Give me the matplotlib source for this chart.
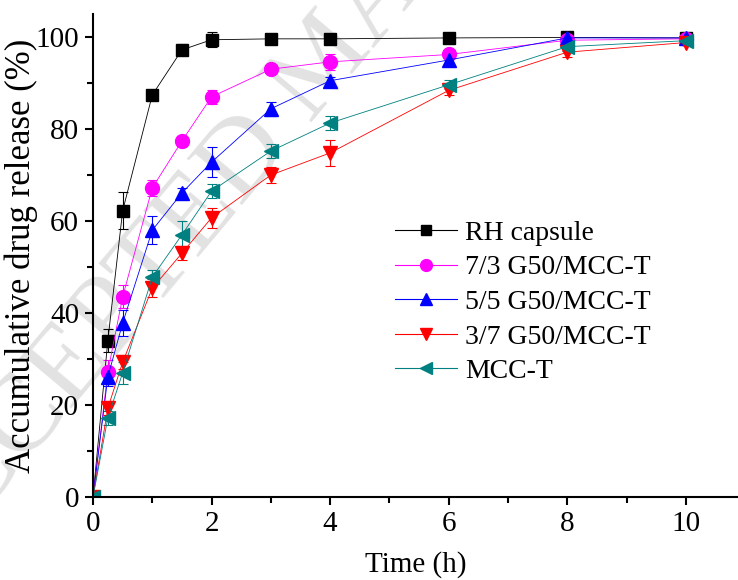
import numpy as np
import matplotlib.pyplot as plt
from matplotlib.lines import Line2D
from matplotlib.ticker import MultipleLocator

plt.rcParams['font.family'] = ['Liberation Serif', 'DejaVu Serif']

# sampling times (h)
t = [0, 0.25, 0.5, 1, 1.5, 2, 3, 4, 6, 8, 10]

# cumulative release (%) and standard deviations
rh = [0, 34.0, 62.2, 87.4, 97.2, 99.4, 99.6, 99.6, 99.8, 99.9, 99.8]
rh_sd = [0, 2.5, 4.0, 0.6, 1.2, 1.6, 0.5, 0.5, 0.5, 0.5, 0.5]
g73 = [0, 27.2, 43.5, 67.2, 77.4, 87.0, 93.0, 94.6, 96.2, 99.3, 99.6]
g73_sd = [0, 2.5, 2.5, 1.8, 1.0, 1.5, 1.0, 1.8, 0.8, 0.5, 0.5]
g55 = [0, 26.1, 37.8, 58.0, 66.1, 72.8, 84.4, 90.5, 95.0, 99.8, 99.8]
g55_sd = [0, 2.0, 2.9, 3.0, 1.0, 3.2, 1.5, 0.8, 0.8, 0.5, 0.5]
g37 = [0, 19.3, 29.3, 45.4, 53.0, 60.7, 70.0, 74.8, 88.4, 96.7, 98.8]
g37_sd = [0, 1.5, 1.5, 2.0, 1.5, 2.2, 1.8, 2.9, 1.0, 1.0, 0.5]
mcc = [0, 17.2, 27.0, 47.8, 57.0, 66.5, 75.2, 81.3, 89.6, 97.9, 99.2]
mcc_sd = [0, 1.5, 2.4, 1.6, 3.0, 1.5, 1.5, 1.5, 1.0, 1.0, 0.5]

series = [
    ('RH capsule', rh, rh_sd, 's', '#000000', 9),
    ('7/3 G50/MCC-T', g73, g73_sd, 'o', '#ff00ff', 10),
    ('5/5 G50/MCC-T', g55, g55_sd, '^', '#0000ff', 10),
    ('3/7 G50/MCC-T', g37, g37_sd, 'v', '#ff0000', 10),
    ('MCC-T', mcc, mcc_sd, '<', '#008080', 10),
]

fig = plt.figure(figsize=(7.38, 5.8), dpi=100)
ax = fig.add_axes([93 / 738, 1 - 497 / 580, 1 - 93 / 738, (497 - 14) / 580])
ax.patch.set_alpha(0)

# faint diagonal watermark behind everything
fig.text(-0.104, -0.01, 'ACCEPTED MANUSCRIPT', fontsize=80, color='#e2e2e2',
         rotation=50, rotation_mode='anchor', ha='left', va='baseline',
         zorder=-1)

handles = []
for name, y, sd, m, c, ms in series:
    ax.errorbar(t, y, yerr=sd, fmt='-', color=c, lw=0.6, elinewidth=0.8,
                capsize=3.5, capthick=0.8, marker=m, ms=ms, mec=c, mfc=c)
    handles.append(Line2D([], [], color=c, lw=0.8, marker=m, ms=ms - 1.5,
                          mec=c, mfc=c, label=name))

ax.set_xlim(0, 10.88)
ax.set_ylim(0, 105)
ax.xaxis.set_major_locator(MultipleLocator(2))
ax.xaxis.set_minor_locator(MultipleLocator(1))
ax.yaxis.set_major_locator(MultipleLocator(20))
ax.yaxis.set_minor_locator(MultipleLocator(10))
ax.tick_params(which='major', direction='out', length=6, width=1.5,
               labelsize=21, pad=4)
ax.tick_params(which='minor', direction='out', length=4, width=1.5)
for s in ['top', 'right']:
    ax.spines[s].set_visible(False)
for s in ['left', 'bottom']:
    ax.spines[s].set_linewidth(1.5)

ax.set_xlabel('Time (h)', fontsize=21, labelpad=10)
ax.set_ylabel('Accumulative drug release (%)', fontsize=25)
ax.yaxis.set_label_coords(-0.085, 0.5)

ax.legend(handles=handles, loc='upper left', bbox_to_anchor=(0.468, 0.573),
          frameon=False, fontsize=20, handlelength=2.23, handletextpad=0.29,
          labelspacing=0.33, borderpad=0, borderaxespad=0)

fig.savefig('out.png', dpi=100)
